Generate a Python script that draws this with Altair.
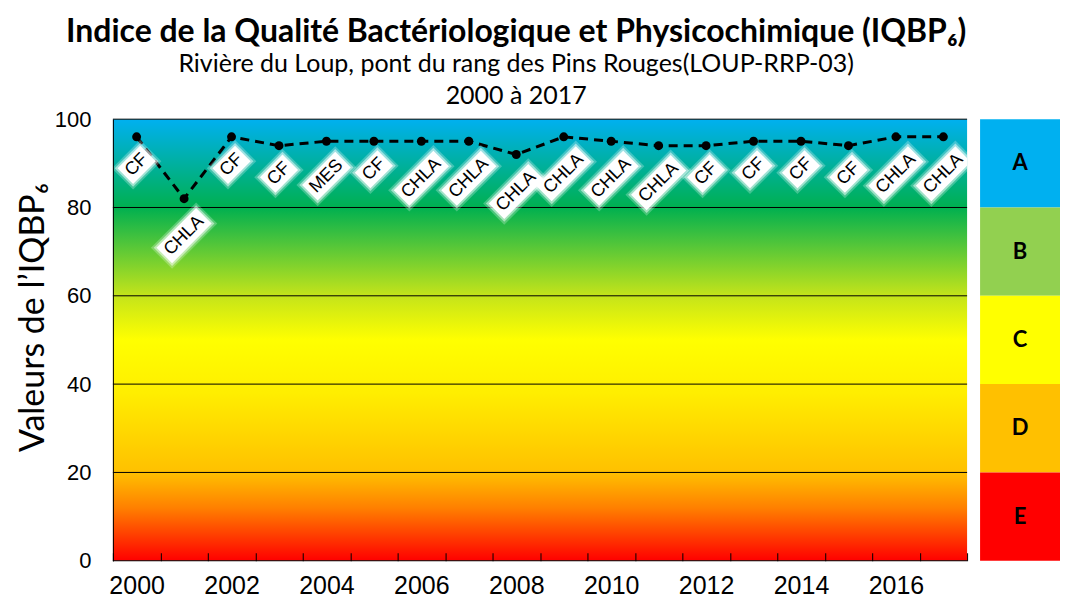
import altair as alt
import pandas as pd

# ---------------- data ----------------
years = [str(y) for y in range(2000, 2018)]
iqbp = [96, 82, 96, 94, 95, 95, 95, 95, 92, 96, 95, 94, 94, 95, 95, 94, 96, 96]
param = ["CF", "CHLA", "CF", "CF", "MES", "CF", "CHLA", "CHLA", "CHLA",
         "CHLA", "CHLA", "CHLA", "CF", "CF", "CF", "CF", "CHLA", "CHLA"]

class_letters = ["A", "B", "C", "D", "E"]
class_low = [80, 60, 40, 20, 0]
class_high = [100, 80, 60, 40, 20]
class_colors = ["#00B0F0", "#92D050", "#FFFF00", "#FFC000", "#FF0000"]

grid_levels = [0, 20, 40, 60, 80, 100]
y_ticks = [0, 20, 40, 60, 80, 100]

# ---------------- layout / style ----------------
W, H = 855, 442
LEG_W = 80
FS = 18
arial_w = {"C": .722, "H": .722, "L": .556, "A": .667, "F": .611,
           "M": .833, "E": .667, "S": .667}
label_drop = {"CF": 28, "MES": 35, "CHLA": 37}

df = pd.DataFrame({"annee": years, "iqbp": iqbp, "param": param})
cls = pd.DataFrame({"letter": class_letters, "lo": class_low,
                    "hi": class_high, "col": class_colors})
grid = pd.DataFrame({"g": grid_levels})
bgdf = pd.DataFrame({"lo": [0], "hi": [100]})

yscale = alt.Scale(domain=[0, 100], nice=False, zero=True)
xscale = alt.Scale(domain=years, paddingInner=0, paddingOuter=0)

yaxis = alt.Axis(values=y_ticks, grid=False, ticks=False, domain=True,
                 domainColor="black", domainWidth=1,
                 labelFont="Liberation Sans", labelFontSize=22,
                 labelColor="black", labelPadding=22,
                 title="Valeurs de l\u2019IQBP\u2086", titleFont="Lato",
                 titleFontSize=34, titleFontWeight="normal",
                 titleColor="black", titlePadding=4, titleY=198, zindex=1)

xaxis = alt.Axis(offset=-8, tickSize=8, domain=False, tickColor="black",
                 tickWidth=1, tickBand="extent", labelPadding=13,
                 labelFont="Liberation Sans", labelFontSize=25,
                 labelColor="black", labelAngle=0, labelOverlap=False,
                 labelExpr="toNumber(datum.value) % 2 == 0 ? datum.label : ''",
                 title=None, zindex=1)

gradient = {
    "gradient": "linear", "x1": 0, "x2": 0, "y1": 0, "y2": 1,
    "stops": [
        {"offset": 0.0, "color": "#00B0F0"},
        {"offset": 0.2, "color": "#00B050"},
        {"offset": 0.4, "color": "#C4E41A"},
        {"offset": 0.5, "color": "#FFFF00"},
        {"offset": 0.62, "color": "#FFEE00"},
        {"offset": 0.8, "color": "#FFC000"},
        {"offset": 0.88, "color": "#FF8000"},
        {"offset": 1.0, "color": "#FF0000"},
    ],
}

bg = alt.Chart(bgdf).mark_rect(fill=gradient).encode(
    y=alt.Y("lo:Q", scale=yscale, axis=yaxis), y2="hi:Q",
    x=alt.value(0), x2=alt.value(W))

rules = alt.Chart(grid).mark_rule(color="black", strokeWidth=1).encode(
    y=alt.Y("g:Q", scale=yscale, axis=yaxis),
    x=alt.value(0), x2=alt.value(W))

base = alt.Chart(df).encode(
    x=alt.X("annee:N", scale=xscale, axis=xaxis, sort=years),
    y=alt.Y("iqbp:Q", scale=yscale, axis=yaxis))

line = base.mark_line(color="black", strokeWidth=3, strokeDash=[9, 6])
pts = base.mark_circle(color="black", size=80, opacity=1)

label_layers = []
for p in sorted(set(param)):
    w = sum(arial_w[c] for c in p) * FS
    L = w + 8
    Hb = 22
    D = label_drop[p]
    sub = base.transform_filter(alt.datum.param == p)
    for extra, op in [(8, 0.25), (4, 0.5), (0, 1.0)]:
        Lx = L + extra
        Hx = Hb + extra
        hy = Hx / Lx
        shape = f"M-1,{-hy:.4f}L1,{-hy:.4f}L1,{hy:.4f}L-1,{hy:.4f}Z"
        label_layers.append(sub.mark_point(
            shape=shape, size=Lx * Lx, filled=True, color="white",
            opacity=op, angle=315, yOffset=D, strokeWidth=0, clip=True))
    label_layers.append(sub.mark_text(
        angle=315, yOffset=D, font="Liberation Sans", fontSize=FS,
        color="black", align="center", baseline="middle", clip=True).encode(
        text="param:N"))

main = alt.layer(bg, rules, line, pts, *label_layers).properties(
    width=W, height=H)

leg_scale = alt.Scale(domain=[0, 100], nice=False)
rects = alt.Chart(cls).mark_rect().encode(
    y=alt.Y("lo:Q", scale=leg_scale, axis=None), y2="hi:Q",
    x=alt.value(0), x2=alt.value(LEG_W),
    color=alt.Color("col:N", scale=None))
letters = alt.Chart(cls).transform_calculate(
    mid="(datum.lo + datum.hi) / 2").mark_text(
    font="Lato", fontWeight="bold", fontSize=22, color="black",
    baseline="middle").encode(
    y=alt.Y("mid:Q", scale=leg_scale, axis=None),
    x=alt.value(LEG_W / 2), text="letter:N")
legend = alt.layer(rects, letters).properties(width=LEG_W, height=H)

chart = alt.hconcat(main, legend, spacing=12).resolve_scale(
    y="independent").properties(
    title=alt.TitleParams(
        text="Indice de la Qualité Bactériologique et Physicochimique (IQBP\u2086)",
        subtitle=["Rivière du Loup, pont du rang des Pins Rouges(LOUP-RRP-03)",
                  "2000 à 2017"],
        font="Lato", fontSize=32, fontWeight="bold", color="black",
        subtitleFont="Lato", subtitleFontSize=25, subtitleColor="black",
        subtitleLineHeight=32, subtitlePadding=3, anchor="middle",
        offset=-2, dx=-22),
    padding={"left": 8, "top": 8, "right": 0, "bottom": 0},
).configure_view(strokeWidth=0)

chart.save("out.html", embed_options={"renderer": "svg", "actions": False})
